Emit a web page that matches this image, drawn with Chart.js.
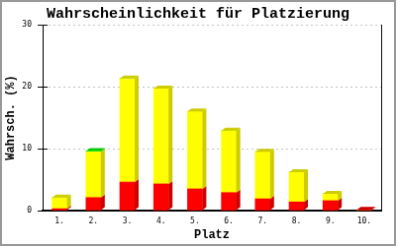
<!DOCTYPE html>
<html>
<head>
<meta charset="utf-8">
<script src="https://cdn.jsdelivr.net/npm/chart.js@4"></script>
<style>
	body { margin: 0; background: #fff; }
	#myChart { border: 2px solid #999; display: block; }
</style>
</head>
<body>
<canvas id="myChart" width="396" height="246"></canvas>
<script>
// values for the chart
const labels = ['1.', '2.', '3.', '4.', '5.', '6.', '7.', '8.', '9.', '10.'];
const redValues = [0.3, 2.1, 4.6, 4.3, 3.5, 2.9, 1.9, 1.4, 1.6, 0.1];
const yellowValues = [1.8, 7.4, 16.7, 15.4, 12.5, 10.0, 7.6, 4.8, 1.1, 0];
const greenValues = [0, 0.1, 0, 0, 0, 0, 0, 0, 0, 0];
const yTicks = [0, 10, 20, 30];

const monoFont = '"Liberation Mono", "DejaVu Sans Mono", monospace';

// side and top faces for the pseudo 3D look
const depthPlugin = {
	id: 'depth',
	afterDatasetsDraw(chart) {
		const ctx = chart.ctx;
		const dx = 4, dy = 3;
		ctx.save();
		for (let i = 0; i < chart.data.labels.length; i++) {
			let top = null;
			chart.data.datasets.forEach((ds, d) => {
				if (!ds.data[i]) return;
				const bar = chart.getDatasetMeta(d).data[i];
				const p = bar.getProps(['x', 'y', 'base', 'width'], true);
				const r = p.x + p.width / 2;
				ctx.fillStyle = ds.sideColor;
				ctx.beginPath();
				ctx.moveTo(r, p.y);
				ctx.lineTo(r + dx, p.y - dy);
				ctx.lineTo(r + dx, p.base - dy);
				ctx.lineTo(r, p.base);
				ctx.closePath();
				ctx.fill();
				top = { p: p, color: ds.sideColor };
			});
			if (top) {
				const p = top.p;
				const l = p.x - p.width / 2, r = p.x + p.width / 2;
				ctx.fillStyle = top.color;
				ctx.beginPath();
				ctx.moveTo(l, p.y);
				ctx.lineTo(l + dx, p.y - dy);
				ctx.lineTo(r + dx, p.y - dy);
				ctx.lineTo(r, p.y);
				ctx.closePath();
				ctx.fill();
			}
		}
		ctx.restore();
	},
	afterDraw(chart) {
		// tick marks also reach into the plot
		const ctx = chart.ctx;
		const y = chart.scales.y;
		const left = chart.chartArea.left;
		ctx.save();
		ctx.strokeStyle = '#000';
		ctx.lineWidth = 1;
		yTicks.forEach(v => {
			const py = Math.round(y.getPixelForValue(v)) + 0.5;
			ctx.beginPath();
			ctx.moveTo(left, py);
			ctx.lineTo(left + 5, py);
			ctx.stroke();
		});
		ctx.restore();
	}
};

const chartData = {
	labels: labels,
	datasets: [
		{ data: redValues, backgroundColor: '#ff0000', sideColor: '#cc0000' },
		{ data: yellowValues, backgroundColor: '#ffff00', sideColor: '#cccc00' },
		{ data: greenValues, backgroundColor: '#00ff00', sideColor: '#00cc00' }
	]
};

const config = {
	type: 'bar',
	data: chartData,
	plugins: [depthPlugin],
	options: {
		responsive: false,
		animation: false,
		datasets: {
			bar: { barThickness: 15, borderWidth: 0 }
		},
		plugins: {
			legend: { display: false },
			tooltip: { enabled: false },
			title: {
				display: true,
				text: 'Wahrscheinlichkeit für Platzierung',
				color: '#000',
				font: { family: monoFont, size: 15, weight: 'bold' },
				padding: { top: 3, bottom: 2 }
			}
		},
		scales: {
			x: {
				stacked: true,
				grid: { display: false, drawTicks: false },
				border: { display: true, color: '#000', width: 2 },
				ticks: {
					color: '#000',
					padding: 6,
					maxRotation: 0,
					autoSkip: false,
					font: { family: '"DejaVu Sans Mono", monospace', size: 8 }
				},
				title: {
					display: true,
					text: 'Platz',
					color: '#000',
					font: { family: monoFont, size: 12, weight: 'bold' },
					padding: { top: 0, bottom: 2 }
				},
				afterFit(scale) { scale.height = 34; }
			},
			y: {
				stacked: true,
				min: 0,
				max: 30,
				afterBuildTicks(scale) { scale.ticks = yTicks.map(v => ({ value: v })); },
				grid: {
					color: '#c0c0c0',
					lineWidth: 1,
					tickColor: '#000',
					tickLength: 5
				},
				border: { display: true, color: '#000', width: 1, dash: [2, 3] },
				ticks: {
					color: '#000',
					padding: 6,
					font: { family: '"DejaVu Sans Mono", monospace', size: 8 }
				},
				title: {
					display: true,
					text: 'Wahrsch. (%)',
					color: '#000',
					font: { family: monoFont, size: 12, weight: 'bold' },
					padding: { top: 2, bottom: 0 }
				},
				afterFit(scale) { scale.width = 41; }
			},
			y2: {
				position: 'right',
				min: 0,
				max: 30,
				grid: { display: false, drawTicks: false },
				border: { display: true, color: '#000', width: 1 },
				ticks: { display: false },
				afterFit(scale) { scale.width = 13; }
			}
		}
	}
};

// Create the chart
var myChart = new Chart(document.getElementById('myChart'), config);
</script>
</body>
</html>
